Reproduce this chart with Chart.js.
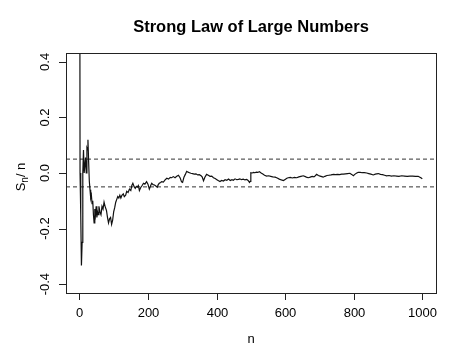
<!DOCTYPE html>
<html>
<head>
<meta charset="utf-8">
<script src="https://cdn.jsdelivr.net/npm/chart.js@4/dist/chart.umd.min.js"></script>
<style>
  html, body { margin: 0; padding: 0; background: #fff; }
  canvas { display: block; }
</style>
</head>
<body>
<canvas id="myChart" width="452" height="353"></canvas>
<script>
// values (n, S_n / n)
const nValues = [1, 2, 4, 6, 8, 10, 12, 14, 16, 18, 20, 22, 24, 25, 27, 29, 31, 33, 35, 37, 39, 41, 43, 45, 47, 49, 51, 53, 55, 57, 60, 63, 66, 69, 72, 75, 79, 82, 85, 88, 91, 94, 97, 100,
  103, 106, 109, 112, 115, 118, 121, 124, 128, 131, 135, 138, 142, 146, 150, 153, 156, 160, 163, 166, 169, 172, 175, 179, 183, 187, 191, 196, 200,
  204, 208, 211, 215, 219, 223, 227, 230, 233, 237, 240, 245, 250, 255, 260, 265, 269, 274, 279, 284, 289, 294, 298, 301, 305, 309, 313, 317, 321, 325, 330, 335, 340, 345, 350, 355, 358, 362, 366, 371, 376, 381, 386, 391, 396,
  401, 406, 410, 415, 420, 425, 430, 435, 440, 445, 449, 454, 459, 464, 468, 473, 478, 483, 488, 492, 496, 498, 500, 504, 508, 512, 516, 520, 525, 530, 535, 540, 546, 552, 558, 564, 571, 577, 583, 589, 595,
  600, 605, 609, 615, 621, 627, 634, 640, 646, 653, 659, 664, 668, 673, 679, 684, 688, 692, 697, 702, 707, 711, 716, 722, 728, 734, 741, 747, 753, 759, 765, 770, 776, 782, 789, 794, 799,
  804, 809, 813, 819, 825, 831, 838, 844, 850, 857, 863, 867, 872, 878, 884, 890, 896, 903, 910, 917, 925, 932, 940, 948, 956, 964, 972, 980, 988, 993, 997, 1000];
const meanValues = [1.0, 0.0, -0.15, -0.333, -0.25, 0.0, 0.083, 0.0, 0.0, 0.056, 0.0, 0.09, 0.083, 0.12, 0.04, -0.03, -0.06, -0.09, -0.08, -0.11, -0.1, -0.15, -0.18, -0.13, -0.15, -0.12, -0.16, -0.14, -0.15, -0.12, -0.14, -0.15, -0.12, -0.13, -0.105, -0.12, -0.135, -0.16, -0.18, -0.165, -0.16, -0.185, -0.17, -0.14,
  -0.125, -0.105, -0.095, -0.085, -0.09, -0.08, -0.09, -0.08, -0.075, -0.085, -0.08, -0.066, -0.07, -0.058, -0.063, -0.045, -0.037, -0.05, -0.055, -0.048, -0.051, -0.045, -0.063, -0.052, -0.045, -0.037, -0.04, -0.031, -0.04,
  -0.058, -0.045, -0.037, -0.042, -0.043, -0.047, -0.051, -0.042, -0.037, -0.034, -0.031, -0.033, -0.025, -0.019, -0.022, -0.016, -0.017, -0.013, -0.017, -0.012, -0.008, -0.018, -0.032, -0.034, -0.015, -0.005, 0.006, 0.003, 0.001, -0.001, -0.002, -0.004, -0.003, -0.007, -0.006, -0.01, -0.014, -0.028, -0.015, -0.005, -0.008, -0.012, -0.011, -0.017, -0.02,
  -0.024, -0.028, -0.031, -0.027, -0.029, -0.024, -0.026, -0.022, -0.027, -0.024, -0.026, -0.021, -0.024, -0.023, -0.021, -0.024, -0.022, -0.025, -0.023, -0.027, -0.034, -0.03, 0.001, 0.0, 0.002, 0.001, 0.003, 0.002, 0.005, 0.0, -0.004, -0.008, -0.011, -0.01, -0.012, -0.014, -0.015, -0.018, -0.022, -0.025, -0.027,
  -0.023, -0.019, -0.017, -0.016, -0.018, -0.016, -0.017, -0.014, -0.012, -0.01, -0.013, -0.016, -0.017, -0.015, -0.012, -0.014, -0.01, -0.005, -0.009, -0.011, -0.013, -0.015, -0.012, -0.009, -0.008, -0.007, -0.005, -0.006, -0.005, -0.006, -0.004, -0.004, -0.003, -0.002, -0.001, -0.005, -0.01,
  -0.004, 0.0, 0.002, 0.002, 0.001, 0.001, 0.0, -0.002, -0.004, -0.007, -0.004, -0.003, -0.002, -0.005, -0.006, -0.008, -0.01, -0.009, -0.011, -0.01, -0.011, -0.012, -0.01, -0.011, -0.012, -0.011, -0.011, -0.012, -0.012, -0.015, -0.018, -0.021];
const bandLevels = [0.05, -0.05];
const xTicks = [0, 200, 400, 600, 800, 1000];
const yTicks = [-0.4, -0.2, 0.0, 0.2, 0.4];
const xRange = [-39, 1040];
const yRange = [-0.432, 0.432];

const FONT = '"Liberation Sans", Arial, Helvetica, sans-serif';

// R-style frame, ticks and labels
const baseAxes = {
    id: 'baseAxes',
    afterDraw(chart) {
        const ctx = chart.ctx;
        const a = chart.chartArea;
        const xs = chart.scales.x;
        const ys = chart.scales.y;
        ctx.save();
        ctx.strokeStyle = '#222';
        ctx.lineWidth = 1;
        ctx.strokeRect(Math.round(a.left) + 0.5, Math.round(a.top) + 0.5, Math.round(a.right - a.left), Math.round(a.bottom - a.top));

        ctx.fillStyle = '#000';
        ctx.font = '13px ' + FONT;
        ctx.textAlign = 'center';
        ctx.textBaseline = 'middle';
        ctx.beginPath();
        xTicks.forEach(v => {
            const px = Math.round(xs.getPixelForValue(v)) + 0.5;
            ctx.moveTo(px, a.bottom);
            ctx.lineTo(px, a.bottom + 7);
            ctx.fillText(String(v), px, a.bottom + 20);
        });
        yTicks.forEach(v => {
            const py = Math.round(ys.getPixelForValue(v)) + 0.5;
            ctx.moveTo(a.left, py);
            ctx.lineTo(a.left - 7, py);
        });
        ctx.stroke();
        yTicks.forEach(v => {
            const py = ys.getPixelForValue(v);
            ctx.save();
            ctx.translate(a.left - 21, py);
            ctx.rotate(-Math.PI / 2);
            ctx.fillText(v.toFixed(1), 0, 0);
            ctx.restore();
        });

        // axis titles
        ctx.fillText('n', (a.left + a.right) / 2, a.bottom + 46);
        ctx.save();
        ctx.translate(21, (a.top + a.bottom) / 2 + 4);
        ctx.rotate(-Math.PI / 2);
        ctx.textAlign = 'left';
        const big = '13px ' + FONT, small = '10px ' + FONT;
        ctx.font = big;
        const wS = ctx.measureText('S').width;
        const wRest = ctx.measureText('/ n').width;
        ctx.font = small;
        const wSub = ctx.measureText('n').width;
        let x0 = -(wS + wSub + wRest) / 2;
        ctx.font = big;
        ctx.fillText('S', x0, 0);
        ctx.font = small;
        ctx.fillText('n', x0 + wS, 4);
        ctx.font = big;
        ctx.fillText('/ n', x0 + wS + wSub, 0);
        ctx.restore();

        // title
        ctx.font = 'bold 16.5px ' + FONT;
        ctx.textAlign = 'center';
        ctx.fillText('Strong Law of Large Numbers', (a.left + a.right) / 2, 27);
        ctx.restore();
    }
};

const displayChart = () => {
    const ctx = document.getElementById('myChart');
    const points = nValues.map((n, i) => ({ x: n, y: meanValues[i] }));
    const bands = bandLevels.map(level => ({
        data: [{ x: xRange[0], y: level }, { x: xRange[1], y: level }],
        borderColor: '#333',
        borderWidth: 1,
        borderDash: [4, 3],
        pointRadius: 0
    }));
    new Chart(ctx, {
        type: 'line',
        data: {
            datasets: [{
                data: points,
                borderColor: '#111',
                borderWidth: 1.2,
                pointRadius: 0,
                tension: 0
            }, ...bands]
        },
        options: {
            responsive: false,
            animation: false,
            layout: { padding: { left: 66, right: 16, top: 53, bottom: 60 } },
            plugins: { legend: { display: false }, tooltip: { enabled: false } },
            scales: {
                x: { type: 'linear', min: xRange[0], max: xRange[1], display: false },
                y: { type: 'linear', min: yRange[0], max: yRange[1], display: false }
            }
        },
        plugins: [baseAxes]
    });
}

displayChart();
</script>
</body>
</html>
